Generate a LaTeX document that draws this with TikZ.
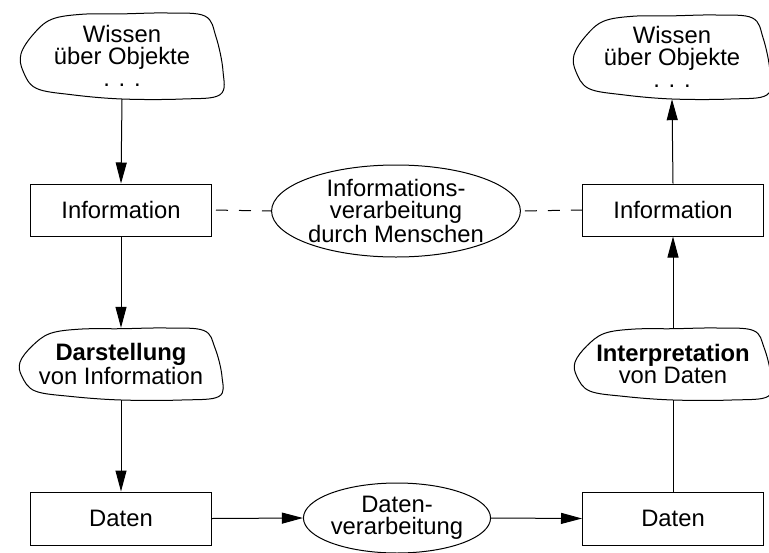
\documentclass[tikz,border=0pt]{standalone}
\usepackage{fontspec}
\setmainfont{Liberation Sans}
\usetikzlibrary{arrows.meta,shapes.geometric}

% irregular smooth outline drawn around a cloud node (normalised to +-1)
\newcommand\blobline[3]{%
  \draw[line width=1pt, shift={#1}, xscale=#2, yscale=#3]
    plot[smooth cycle, tension=0.6] coordinates {
      (-1.00,-0.05) (-0.88,-0.50) (-0.70,-0.85) (-0.40,-0.97) (0.00,-0.98)
      (0.45,-1.00) (0.82,-0.93) (0.93,-0.45) (1.00,0.35) (0.97,0.90)
      (0.60,1.00) (0.00,1.00) (-0.50,0.90) (-0.85,0.75) (-0.98,0.35)};}

\tikzset{
  every node/.style={font=\fontsize{23.8}{22}\selectfont},
  box/.style={draw, line width=1pt, minimum width=181pt, minimum height=52pt, inner sep=0pt},
  oval/.style={draw, line width=1pt, ellipse, inner sep=0pt, align=center},
  blobtext/.style={align=center, inner sep=0pt},
  link/.style={line width=1pt},
  arr/.style={link, -{Triangle[length=21pt,width=11pt]}},
  dashlink/.style={link, dash pattern=on 12pt off 11pt, dash phase=-4pt},
}

\begin{document}
\begin{tikzpicture}[x=1pt, y=-1pt]
  \useasboundingbox (0,0) rectangle (769,552);

  % left column
  \node[blobtext, minimum width=202pt, minimum height=86pt] (wisL) at (122,56)
    {Wissen\\über Objekte\\. . .};
  \blobline{(wisL.center)}{101}{43}
  \node[box] (infoL) at (121,210) {Information};
  \node[blobtext, minimum width=202pt, minimum height=72pt] (darL) at (121,364)
    {\textbf{Darstellung}\\von Information};
  \blobline{(darL.center)}{101}{36}
  \node[box, minimum height=53pt] (datL) at (121,518.5) {Daten};

  % right column
  \node[blobtext, minimum width=196pt, minimum height=84pt] (wisR) at (672,57)
    {Wissen\\über Objekte\\. . .};
  \blobline{(wisR.center)}{98}{42}
  \node[box] (infoR) at (673,210) {Information};
  \node[blobtext, minimum width=196pt, minimum height=72pt] (intR) at (673,364)
    {\textbf{Interpretation}\\von Daten};
  \blobline{(intR.center)}{98}{36}
  \node[box, minimum height=53pt] (datR) at (673,518.5) {Daten};

  % processing ellipses
  \node[oval, minimum width=228pt, minimum height=92pt] (infoP) at (396,211)
    {Informations-\\verarbeitung\\durch Menschen};
  \node[oval, minimum width=176pt, minimum height=70pt] (datP) at (397,518)
    {Daten-\\verarbeitung};

  % connectors
  \draw[arr] (wisL.south) -- (infoL.north);
  \draw[arr] (infoL.south) -- (darL.north);
  \draw[arr] (darL.south) -- (datL.north);
  \draw[arr] (datL.east) -- (datP.west);
  \draw[arr] (datP.east) -- (datR.west);
  \draw[link] (datR.north) -- (intR.south);
  \draw[arr] (intR.north) -- (infoR.south);
  \draw[arr] (infoR.north) -- (wisR.south);
  \draw[dashlink] (infoL.east) -- (infoP.west);
  \draw[dashlink] (infoP.east) -- (infoR.west);
\end{tikzpicture}
\end{document}
